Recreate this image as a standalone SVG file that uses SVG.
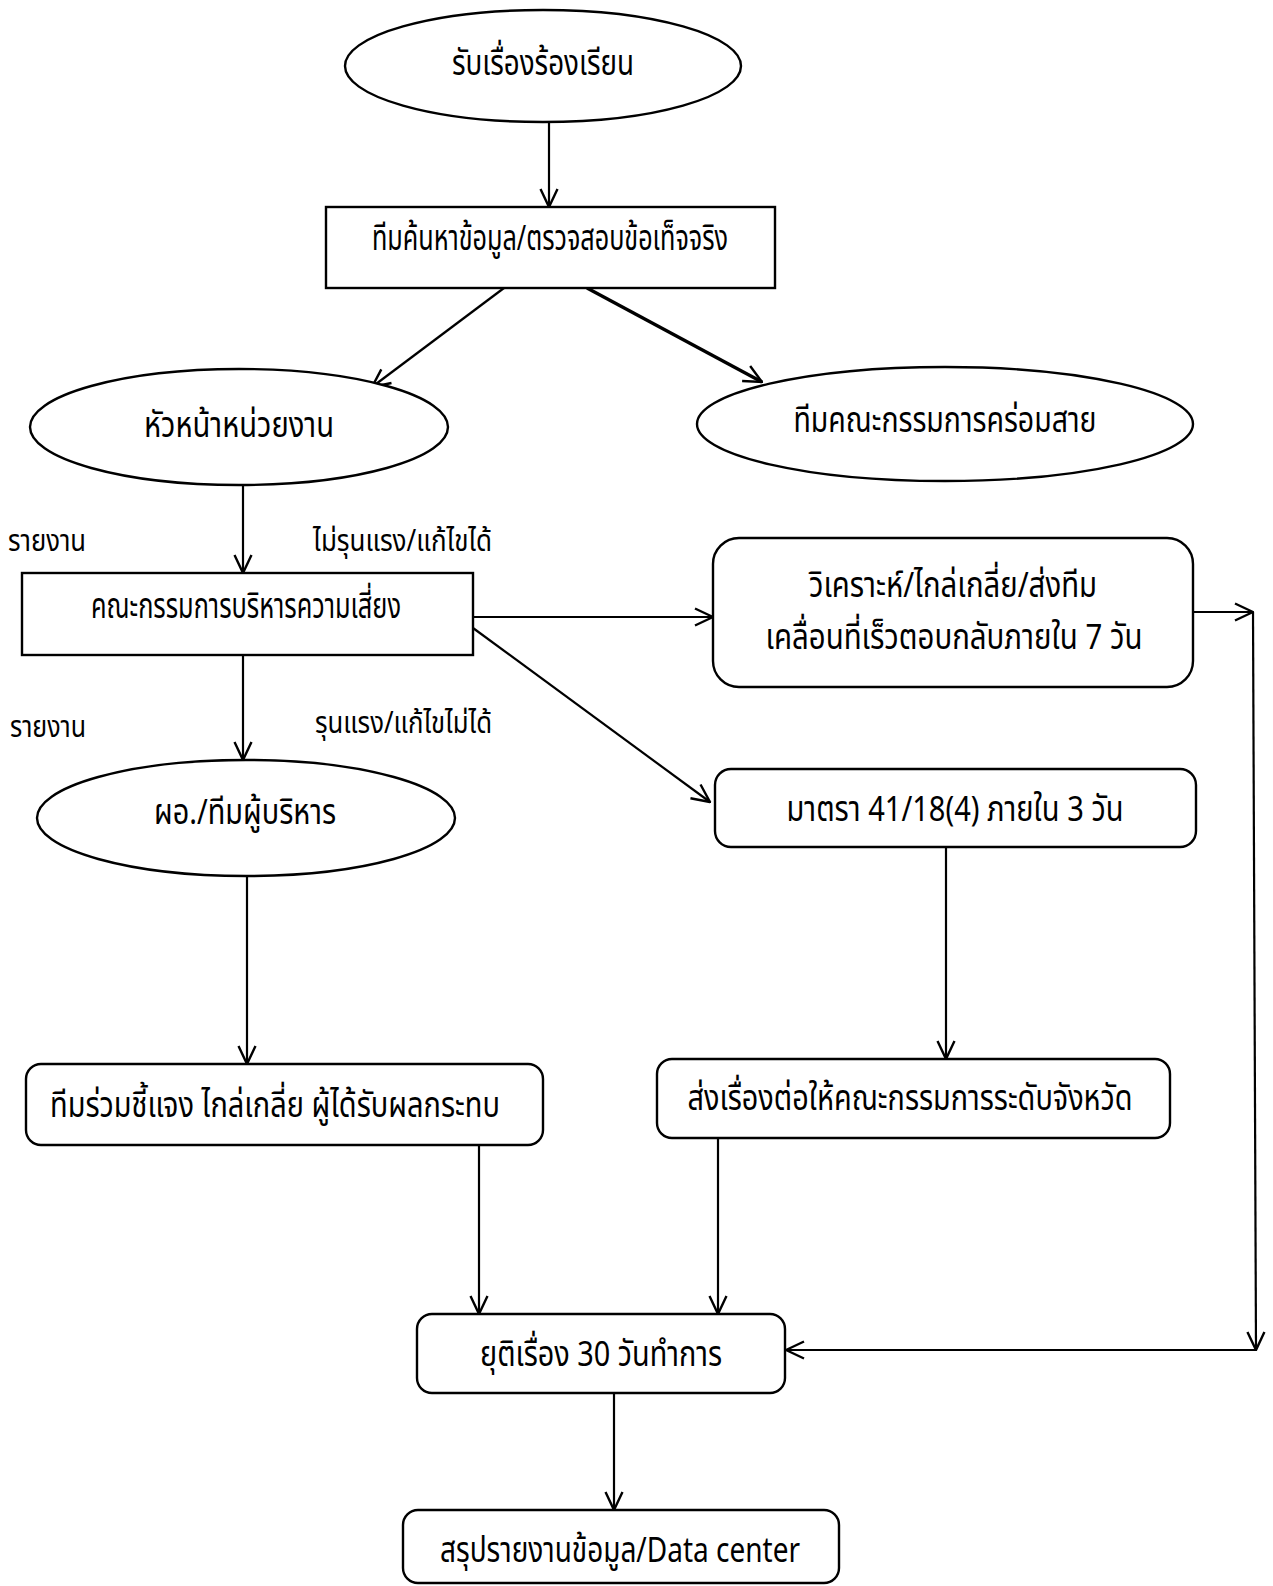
<svg xmlns="http://www.w3.org/2000/svg" width="1273" height="1586" viewBox="0 0 1273 1586">
<style>
.n{fill:#fff;stroke:#000;stroke-width:2.4}
.t{font-family:"Noto Sans Thai","Noto Sans","DejaVu Sans",sans-serif;font-size:35px;fill:#000;text-anchor:middle}
.l{font-family:"Noto Sans Thai","Noto Sans","DejaVu Sans",sans-serif;font-size:30px;fill:#000}
.c{fill:none;stroke:#000;stroke-width:2.2;marker-end:url(#a)}
</style>
<defs>
<marker id="a" viewBox="0 0 20 20" refX="19" refY="10" markerWidth="20" markerHeight="20" orient="auto" markerUnits="userSpaceOnUse">
<path d="M1,1.5 L19,10 L1,18.5" fill="none" stroke="#000" stroke-width="2.4"/>
</marker>
</defs>
<rect width="1273" height="1586" fill="#fff"/>
<g id="connectors">
<path class="c" d="M549,122 V207"/>
<path class="c" d="M504,288 L372,387"/>
<path class="c" d="M587,288 L762,382" style="stroke-width:3.4"/>
<path class="c" d="M243,485 V573"/>
<path class="c" d="M243,655 V760"/>
<path class="c" d="M247,876 V1064"/>
<path class="c" d="M473,617 H713"/>
<path class="c" d="M473,628 L710,802"/>
<path class="c" d="M1193,612 H1253"/>
<path class="c" d="M1253,612 L1256,1350"/>
<path class="c" d="M1256,1350 H786"/>
<path class="c" d="M946,847 V1059"/>
<path class="c" d="M479,1145 V1314"/>
<path class="c" d="M718,1138 V1314"/>
<path class="c" d="M614,1393 V1510"/>
</g>
<g id="n1"><ellipse class="n" cx="543" cy="66" rx="198" ry="56"/><text class="t" x="543" y="75" textLength="182" lengthAdjust="spacingAndGlyphs">รับเรื่องร้องเรียน</text></g>
<g id="n2"><rect class="n" x="326" y="207" width="449" height="81"/><text class="t" x="550" y="250" textLength="356" lengthAdjust="spacingAndGlyphs">ทีมค้นหาข้อมูล/ตรวจสอบข้อเท็จจริง</text></g>
<g id="n3"><ellipse class="n" cx="239" cy="427" rx="209" ry="58"/><text class="t" x="239" y="437" textLength="190" lengthAdjust="spacingAndGlyphs">หัวหน้าหน่วยงาน</text></g>
<g id="n4"><ellipse class="n" cx="945" cy="424" rx="248" ry="57"/><text class="t" x="945" y="432" textLength="303" lengthAdjust="spacingAndGlyphs">ทีมคณะกรรมการคร่อมสาย</text></g>
<g id="lbl">
<text class="l" x="8" y="551" textLength="78" lengthAdjust="spacingAndGlyphs">รายงาน</text>
<text class="l" x="313" y="551" textLength="179" lengthAdjust="spacingAndGlyphs">ไม่รุนแรง/แก้ไขได้</text>
<text class="l" x="10" y="737" textLength="76" lengthAdjust="spacingAndGlyphs">รายงาน</text>
<text class="l" x="315" y="733" textLength="177" lengthAdjust="spacingAndGlyphs">รุนแรง/แก้ไขไม่ได้</text>
</g>
<g id="n5"><rect class="n" x="22" y="573" width="451" height="82"/><text class="t" x="246" y="618" textLength="310" lengthAdjust="spacingAndGlyphs">คณะกรรมการบริหารความเสี่ยง</text></g>
<g id="n6"><rect class="n" x="713" y="538" width="480" height="149" rx="26"/><text class="t" x="953" y="597" textLength="288" lengthAdjust="spacingAndGlyphs">วิเคราะห์/ไกล่เกลี่ย/ส่งทีม</text><text class="t" x="954" y="649" textLength="377" lengthAdjust="spacingAndGlyphs">เคลื่อนที่เร็วตอบกลับภายใน 7 วัน</text></g>
<g id="n7"><ellipse class="n" cx="246" cy="818" rx="209" ry="58"/><text class="t" x="245" y="824" textLength="182" lengthAdjust="spacingAndGlyphs">ผอ./ทีมผู้บริหาร</text></g>
<g id="n8"><rect class="n" x="715" y="769" width="481" height="78" rx="16"/><text class="t" x="955" y="821" textLength="337" lengthAdjust="spacingAndGlyphs">มาตรา 41/18(4) ภายใน 3 วัน</text></g>
<g id="n9"><rect class="n" x="26" y="1064" width="517" height="81" rx="15"/><text class="t" x="275" y="1117" textLength="450" lengthAdjust="spacingAndGlyphs">ทีมร่วมชี้แจง ไกล่เกลี่ย ผู้ได้รับผลกระทบ</text></g>
<g id="n10"><rect class="n" x="657" y="1059" width="513" height="79" rx="15"/><text class="t" x="910" y="1110" textLength="445" lengthAdjust="spacingAndGlyphs">ส่งเรื่องต่อให้คณะกรรมการระดับจังหวัด</text></g>
<g id="n11"><rect class="n" x="417" y="1314" width="368" height="79" rx="15"/><text class="t" x="601" y="1366" textLength="242" lengthAdjust="spacingAndGlyphs">ยุติเรื่อง 30 วันทำการ</text></g>
<g id="n12"><rect class="n" x="403" y="1510" width="436" height="73" rx="15"/><text class="t" x="620" y="1562" textLength="360" lengthAdjust="spacingAndGlyphs">สรุปรายงานข้อมูล/Data center</text></g>
</svg>
